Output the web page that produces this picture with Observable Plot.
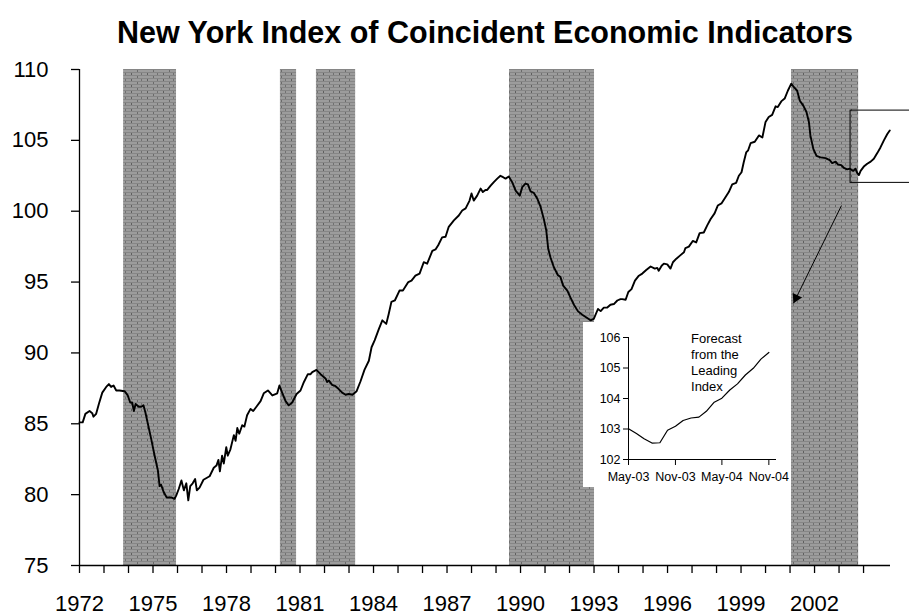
<!DOCTYPE html>
<html><head><meta charset="utf-8">
<script src="https://cdn.jsdelivr.net/npm/d3@7"></script>
<script src="https://cdn.jsdelivr.net/npm/@observablehq/plot@0.6"></script>
<style>
body{margin:0;background:#fff;}
#wrap{position:relative;width:909px;height:613px;overflow:hidden;font-family:"Liberation Sans",Arial,sans-serif;}
#inset{position:absolute;left:583px;top:322px;}
</style></head><body>
<svg width="0" height="0" style="position:absolute"><defs>
<pattern id="hatch" patternUnits="userSpaceOnUse" width="16" height="6">
<rect x="0" y="0" width="16" height="6" fill="#9c9c9c"/>
<rect x="0" y="0" width="16" height="1" fill="#868686"/>
<rect x="0" y="3" width="16" height="1" fill="#868686"/>
<rect x="3" y="1" width="1" height="2" fill="#5e5e5e"/>
<rect x="9" y="4" width="1" height="2" fill="#6a6a6a"/>
<rect x="13" y="1" width="1" height="2" fill="#707070"/>
</pattern></defs></svg>
<div id="wrap"><div id="main"></div><div id="inset"></div></div>
<script>
// ---- data ----
const titleText = "New York Index of Coincident Economic Indicators";
const years = [1972.00,1972.13,1972.24,1972.41,1972.52,1972.57,1972.68,1972.79,1972.93,1973.09,1973.20,1973.29,1973.39,1973.50,1973.63,1973.84,1973.97,1974.07,1974.15,1974.22,1974.29,1974.42,1974.52,1974.61,1974.69,1974.79,1974.93,1975.06,1975.20,1975.27,1975.33,1975.43,1975.56,1975.74,1975.88,1975.95,1976.05,1976.16,1976.26,1976.36,1976.44,1976.52,1976.62,1976.72,1976.79,1976.90,1977.06,1977.31,
1977.48,1977.59,1977.67,1977.73,1977.82,1977.89,1977.99,1978.05,1978.16,1978.30,1978.37,1978.44,1978.52,1978.64,1978.73,1978.84,1978.98,1979.09,1979.22,1979.39,1979.52,1979.69,1979.87,1980.00,1980.07,1980.16,1980.27,1980.41,1980.54,1980.68,1980.86,1981.02,1981.16,1981.32,1981.43,1981.50,1981.67,1981.84,1982.04,1982.11,1982.18,1982.31,1982.45,1982.58,1982.72,1982.86,1982.99,1983.14,1983.31,1983.47,1983.63,
1983.81,1983.92,1984.05,1984.22,1984.36,1984.52,1984.62,1984.73,1984.87,1985.06,1985.20,1985.31,1985.42,1985.55,1985.71,1985.88,1986.05,1986.19,1986.40,1986.53,1986.64,1986.80,1986.94,1987.07,1987.28,1987.48,1987.62,1987.76,1987.92,1988.00,1988.09,1988.23,1988.37,1988.46,1988.57,
1988.64,1988.78,1988.91,1989.05,1989.18,1989.29,1989.39,1989.52,1989.66,1989.80,1989.97,1990.07,1990.20,1990.30,1990.41,1990.54,1990.68,1990.82,1990.95,1991.05,1991.13,1991.22,1991.36,1991.52,1991.63,1991.74,1991.91,1992.04,1992.18,1992.34,1992.52,1992.69,1992.86,1992.99,1993.16,1993.27,1993.40,1993.54,1993.67,1993.81,1993.95,1994.08,
1994.15,1994.29,1994.40,1994.53,1994.67,1994.83,1994.97,1995.13,1995.31,1995.48,1995.58,1995.64,1995.76,1995.85,1995.99,1996.12,1996.22,1996.36,1996.53,1996.67,1996.73,1996.87,1997.03,1997.17,1997.31,1997.48,1997.62,1997.76,1997.92,1998.05,1998.20,1998.37,1998.50,1998.64,1998.80,1998.91,1999.02,1999.11,1999.21,1999.29,1999.39,1999.56,
1999.73,1999.87,2000.00,2000.13,2000.27,2000.41,2000.50,2000.64,2000.78,2000.91,2001.05,2001.16,2001.29,2001.40,2001.54,2001.67,2001.77,2001.83,2001.95,2002.08,2002.24,2002.45,2002.62,2002.72,2002.86,2002.95,2003.09,2003.20,2003.33,2003.44,2003.58,2003.67,2003.74,2003.81,2003.88,2004.01,2004.15,2004.29,2004.42,2004.56,2004.69,2004.83,2004.97,2005.07];
const values = [85.1,85.1,85.7,85.9,85.75,85.5,85.7,86.4,87.2,87.6,87.8,87.6,87.7,87.35,87.35,87.3,87.0,86.5,86.5,85.9,86.4,86.2,86.2,86.3,85.8,85.0,83.9,82.8,81.7,80.6,80.7,80.2,79.8,79.8,79.7,79.95,80.4,81.0,80.3,80.8,79.6,80.6,80.8,81.1,80.3,80.5,81.05,81.3,
81.9,82.05,82.45,81.65,82.75,82.2,83.35,82.75,83.2,84.2,83.8,84.7,84.3,84.9,84.8,85.6,86.05,85.9,86.2,86.6,87.15,87.35,87.0,87.1,87.15,87.7,87.2,86.6,86.3,86.5,87.1,87.35,87.95,88.5,88.5,88.65,88.8,88.5,88.2,87.95,88.05,87.75,87.65,87.45,87.2,87.05,87.1,87.05,87.3,88.0,88.8,
89.45,90.4,90.9,91.7,92.3,92.05,92.75,93.6,93.7,94.4,94.4,94.7,95.0,95.1,95.45,95.6,96.4,96.3,97.2,97.3,97.6,98.15,98.2,98.9,99.35,99.7,100.05,100.2,100.75,101.25,100.75,101.1,101.6,101.35,101.5,
101.5,101.8,102.05,102.3,102.5,102.4,102.3,102.45,102.05,101.45,101.1,101.7,101.95,101.9,101.4,101.3,100.9,100.3,99.45,98.65,97.35,96.75,96.05,95.5,95.35,94.75,94.4,93.9,93.4,92.95,92.7,92.5,92.3,92.4,93.1,92.95,93.2,93.2,93.4,93.45,93.7,93.8,
93.8,93.75,94.3,94.5,95.1,95.45,95.6,95.85,96.1,95.95,96.0,95.8,96.15,96.3,96.25,95.95,96.4,96.65,96.9,97.1,97.4,97.5,97.9,97.8,98.45,98.5,99.0,99.45,99.85,100.4,100.55,101.0,101.35,101.9,102.0,102.5,102.75,103.45,104.15,104.3,104.8,104.9,
105.35,105.2,106.3,106.65,106.8,107.4,107.35,107.75,107.95,108.5,109.0,108.75,108.5,107.8,107.45,107.0,106.3,105.35,104.4,103.9,103.8,103.75,103.6,103.4,103.5,103.3,103.25,103.05,102.95,103.0,102.85,103.0,102.7,102.55,102.85,103.15,103.35,103.5,103.7,104.1,104.5,105.0,105.45,105.7];
const recessionStart = [1973.80, 1980.20, 1981.67, 1989.55, 2001.06];
const recessionEnd   = [1975.96, 1980.86, 1983.27, 1993.02, 2003.80];
const yTicks = [75, 80, 85, 90, 95, 100, 105, 110];
const tickYears = d3.range(1972, 2005);
const labelYears = [1972, 1975, 1978, 1981, 1984, 1987, 1990, 1993, 1996, 1999, 2002];
// highlight box around the forecast and the arrow pointing to the inset
const forecastBox = {x1: 2003.47, x2: 2006.5, y1: 102.0, y2: 107.1};
const pointer = {x1: 2003.10, y1: 100.4, x2: 2001.14, y2: 93.5};
// inset: forecast from the leading index
const forecastMonths = ["2003-05","2003-06","2003-07","2003-08","2003-09","2003-10","2003-11","2003-12","2004-01","2004-02","2004-03","2004-04","2004-05","2004-06","2004-07","2004-08","2004-09","2004-10","2004-11"];
const forecastValues = [103.01,102.85,102.68,102.54,102.55,102.96,103.09,103.28,103.36,103.39,103.58,103.88,104.01,104.28,104.48,104.77,104.99,105.29,105.51];
const insetYTicks = [102, 103, 104, 105, 106];
const insetXTicks = ["2003-05","2003-11","2004-05","2004-11"];
const insetNote = "Forecast\nfrom the\nLeading\nIndex";

// ---- main chart ----
const font = "Liberation Sans, Arial, sans-serif";
const series = years.map((t, i) => ({t, v: values[i]}));
const bands = recessionStart.map((s, i) => ({s, e: recessionEnd[i]}));
const main = Plot.plot({
  width: 909, height: 613,
  marginLeft: 79, marginRight: 19, marginTop: 69, marginBottom: 48,
  x: {domain: [1972, 2005.1]},
  y: {domain: [75, 110]},
  style: {fontFamily: font, fontSize: "22px", color: "#000", background: "#fff", overflow: "visible"},
  marks: [
    Plot.rect(bands, {x1: "s", x2: "e", fill: "url(#hatch)"}),
    Plot.ruleX([1972], {stroke: "#000", strokeWidth: 1.3}),
    Plot.ruleY([75], {stroke: "#000", strokeWidth: 1.3}),
    Plot.axisY({ticks: yTicks, tickSize: 8, tickPadding: 23, fontSize: 22, label: null, strokeWidth: 1.3}),
    Plot.axisX({ticks: tickYears, tickSize: 8, tickFormat: () => "", label: null, strokeWidth: 1.3}),
    Plot.axisX({ticks: labelYears, tickSize: 0, tickPadding: 30, tickFormat: d => String(d), fontSize: 22, label: null}),
    Plot.line(series, {x: "t", y: "v", stroke: "#000", strokeWidth: 1.9}),
    Plot.rect([forecastBox], {x1: "x1", x2: "x2", y1: "y1", y2: "y2", fill: "none", stroke: "#000", strokeWidth: 1}),
    Plot.link([pointer], {x1: "x1", y1: "y1", x2: "x2", y2: "y2", stroke: "#000", strokeWidth: 1}),
    Plot.dot([pointer], {x: "x2", y: "y2", symbol: "triangle2", r: 5, fill: "#000", stroke: "none", rotate: 206, dx: 2.6, dy: -5.4}),
    Plot.text([titleText], {text: d => d, frameAnchor: "top", lineAnchor: "middle", dy: -36, fontWeight: "bold", fontSize: 30.5})
  ]
});
document.getElementById("main").appendChild(main);

// ---- inset ----
const parseMonth = d3.utcParse("%Y-%m");
const forecast = forecastMonths.map((m, i) => ({d: parseMonth(m), v: forecastValues[i]}));
const x0 = parseMonth("2003-05"), x1 = parseMonth("2004-12");
const inset = Plot.plot({
  width: 208, height: 165,
  marginLeft: 45, marginRight: 15, marginTop: 15, marginBottom: 28,
  x: {type: "utc", domain: [x0, x1]},
  y: {domain: [102, 106]},
  style: {fontFamily: font, fontSize: "12.5px", color: "#000", background: "#fff", overflow: "visible"},
  marks: [
    Plot.ruleX([x0], {stroke: "#000"}),
    Plot.ruleY([102], {stroke: "#000"}),
    Plot.axisY({ticks: insetYTicks, tickSize: 5, tickPadding: 3, tickFormat: d => String(d), label: null}),
    Plot.axisX({ticks: insetXTicks.map(parseMonth), tickSize: 6, tickPadding: 7, tickFormat: d3.utcFormat("%b-%y"), label: null}),
    Plot.line(forecast, {x: "d", y: "v", stroke: "#000", strokeWidth: 1.2}),
    Plot.text([insetNote], {text: d => d, x: parseMonth("2004-01"), y: 106, textAnchor: "start", lineAnchor: "top", dy: -6, fontSize: 13, lineHeight: 1.23})
  ]
});
document.getElementById("inset").appendChild(inset);
</script>
</body></html>
